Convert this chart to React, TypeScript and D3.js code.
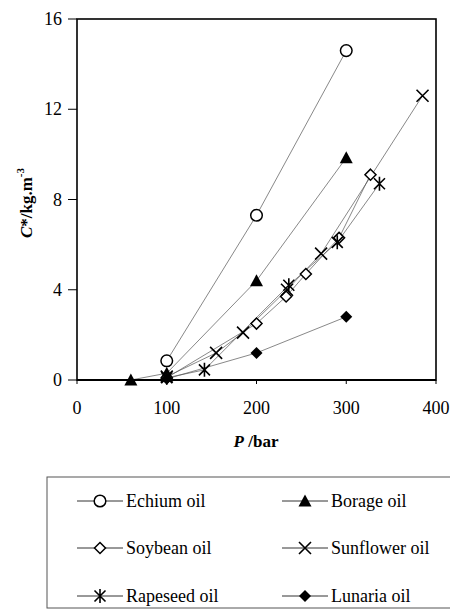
import React from "react";
import * as d3 from "d3";

// pressure (bar) / solubility C* (kg.m-3)
const echiumP = [100, 200, 300];
const echiumC = [0.85, 7.3, 14.6];
const borageP = [60, 100, 200, 300];
const borageC = [0, 0.3, 4.4, 9.85];
const soybeanP = [100, 200, 233, 255, 292, 327];
const soybeanC = [0.1, 2.5, 3.7, 4.7, 6.3, 9.1];
const sunflowerP = [100, 155, 185, 234, 272, 385];
const sunflowerC = [0.15, 1.2, 2.1, 4.0, 5.6, 12.6];
const rapeseedP = [100, 142, 236, 290, 337];
const rapeseedC = [0.1, 0.45, 4.2, 6.1, 8.7];
const lunariaP = [100, 200, 300];
const lunariaC = [0.05, 1.2, 2.8];

const xTicks = [0, 100, 200, 300, 400];
const yTicks = [0, 4, 8, 12, 16];

type MarkerKind = "circle" | "triangle" | "diamondOpen" | "cross" | "star" | "diamondFilled";

const seriesList: { name: string; p: number[]; c: number[]; marker: MarkerKind }[] = [
  { name: "Echium oil", p: echiumP, c: echiumC, marker: "circle" },
  { name: "Borage oil", p: borageP, c: borageC, marker: "triangle" },
  { name: "Soybean oil", p: soybeanP, c: soybeanC, marker: "diamondOpen" },
  { name: "Sunflower oil", p: sunflowerP, c: sunflowerC, marker: "cross" },
  { name: "Rapeseed oil", p: rapeseedP, c: rapeseedC, marker: "star" },
  { name: "Lunaria oil", p: lunariaP, c: lunariaC, marker: "diamondFilled" },
];

const FONT = "Liberation Serif";

function Marker({ kind, x, y }: { kind: MarkerKind; x: number; y: number }) {
  const s = 6;
  switch (kind) {
    case "circle":
      return <circle cx={x} cy={y} r={5.8} fill="white" stroke="black" strokeWidth={1.5} />;
    case "triangle":
      return (
        <path
          d={`M${x},${y - 6.5}L${x + 6.5},${y + 5.5}L${x - 6.5},${y + 5.5}Z`}
          fill="black"
        />
      );
    case "diamondOpen":
      return (
        <path
          d={`M${x},${y - 5.5}L${x + 5.5},${y}L${x},${y + 5.5}L${x - 5.5},${y}Z`}
          fill="white"
          stroke="black"
          strokeWidth={1.5}
        />
      );
    case "diamondFilled":
      return (
        <path
          d={`M${x},${y - 6}L${x + 6},${y}L${x},${y + 6}L${x - 6},${y}Z`}
          fill="black"
        />
      );
    case "cross":
      return (
        <path
          d={`M${x - s},${y - s}L${x + s},${y + s}M${x - s},${y + s}L${x + s},${y - s}`}
          stroke="black"
          strokeWidth={1.6}
        />
      );
    case "star":
      return (
        <path
          d={`M${x - 5.5},${y - 5.5}L${x + 5.5},${y + 5.5}M${x - 5.5},${y + 5.5}L${x + 5.5},${y - 5.5}M${x},${y - 7}L${x},${y + 7}`}
          stroke="black"
          strokeWidth={1.6}
        />
      );
  }
}

export default function App() {
  const left = 77;
  const right = 436;
  const top = 19;
  const bottom = 380;

  const x = d3.scaleLinear().domain([0, 400]).range([left, right]);
  const y = d3.scaleLinear().domain([0, 16]).range([bottom, top]);

  const line = d3
    .line<[number, number]>()
    .x((d) => x(d[0]))
    .y((d) => y(d[1]));

  // legend layout
  const legendRows = [501, 548, 596];
  const legendCols = [100, 305];

  return (
    <svg
      width={450}
      height={610}
      style={{ position: "absolute", left: 0, top: 0, background: "white" }}
    >
      <g fontFamily={FONT}>
      {/* series lines */}
      {seriesList.map((s) => (
        <path
          key={s.name + "-line"}
          d={line(s.p.map((p, i) => [p, s.c[i]] as [number, number])) || ""}
          fill="none"
          stroke="#555"
          strokeWidth={0.7}
        />
      ))}

      {/* frame */}
      <rect
        x={left}
        y={top}
        width={right - left}
        height={bottom - top}
        fill="none"
        stroke="black"
        strokeWidth={1.6}
      />
      <line x1={left} x2={right} y1={bottom} y2={bottom} stroke="black" strokeWidth={2} />

      {/* y axis ticks */}
      {yTicks.map((t) => (
        <g key={"y" + t}>
          <line x1={left - 9} x2={left} y1={y(t)} y2={y(t)} stroke="black" strokeWidth={1} />
          <text x={left - 15} y={y(t) + 6} textAnchor="end" fontSize={18}>
            {t}
          </text>
        </g>
      ))}

      {/* x axis ticks */}
      {xTicks.map((t) => (
        <g key={"x" + t}>
          <line x1={x(t)} x2={x(t)} y1={bottom} y2={bottom + 4} stroke="black" strokeWidth={1} />
          <text x={x(t)} y={414} textAnchor="middle" fontSize={18}>
            {t}
          </text>
        </g>
      ))}

      {/* markers */}
      {seriesList.map((s) =>
        s.p.map((p, i) => (
          <Marker key={s.name + i} kind={s.marker} x={x(p)} y={y(s.c[i])} />
        ))
      )}

      {/* axis titles */}
      <text x={256} y={447} textAnchor="middle" fontSize={17} fontWeight="bold">
        <tspan fontStyle="italic">P</tspan>
        <tspan> /bar</tspan>
      </text>
      <text
        transform="translate(32,203) rotate(-90)"
        textAnchor="middle"
        fontSize={17}
        fontWeight="bold"
      >
        <tspan fontStyle="italic">C</tspan>
        <tspan>*/kg.m</tspan>
        <tspan fontSize={11} dy={-8}>-3</tspan>
      </text>

      {/* legend */}
      <rect x={47} y={477} width={420} height={131} fill="white" stroke="#555" strokeWidth={1} />
      {seriesList.map((s, i) => {
        const cx = legendCols[i % 2];
        const cy = legendRows[Math.floor(i / 2)];
        return (
          <g key={s.name + "-legend"}>
            <line x1={cx - 23} x2={cx + 23} y1={cy} y2={cy} stroke="#333" strokeWidth={1} />
            <Marker kind={s.marker} x={cx} y={cy} />
            <text x={cx + 26} y={cy + 6} fontSize={18}>
              {s.name}
            </text>
          </g>
        );
      })}
      </g>
    </svg>
  );
}
